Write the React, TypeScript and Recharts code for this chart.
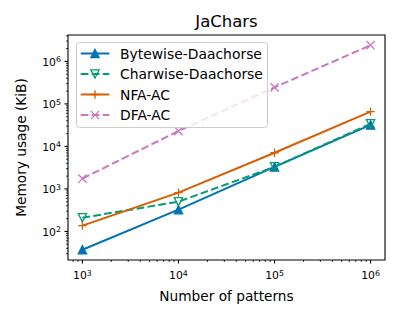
import { LineChart, Line, XAxis, YAxis, Legend, ReferenceArea } from "recharts"

// number of patterns (x) and memory usage in KiB for each structure
const patternCounts = [1e3, 1e4, 1e5, 1e6]
const bytewiseMem = [37, 325, 3300, 32000]
const charwiseMem = [210, 500, 3300, 34000]
const nfaMem = [137, 820, 7100, 66000]
const dfaMem = [1750, 23000, 245000, 2400000]

const seriesNames = ["Bytewise-Daachorse", "Charwise-Daachorse", "NFA-AC", "DFA-AC"]
const xMajorTicks = [1e3, 1e4, 1e5, 1e6]
const yMajorTicks = [1e2, 1e3, 1e4, 1e5, 1e6]

const FONT = "DejaVu Sans"

type MarkerKind = "up" | "down" | "plus" | "cross"

interface SeriesDef {
  key: string
  name: string
  color: string
  marker: MarkerKind
  dashed: boolean
}

const series: SeriesDef[] = [
  { key: "bytewise", name: seriesNames[0], color: "#0173b2", marker: "up", dashed: false },
  { key: "charwise", name: seriesNames[1], color: "#029e73", marker: "down", dashed: true },
  { key: "nfa", name: seriesNames[2], color: "#d55e00", marker: "plus", dashed: false },
  { key: "dfa", name: seriesNames[3], color: "#cc78bc", marker: "cross", dashed: true }
]

const data = patternCounts.map((x, i) => ({
  x,
  bytewise: bytewiseMem[i],
  charwise: charwiseMem[i],
  nfa: nfaMem[i],
  dfa: dfaMem[i]
}))

// log-space autoscale with 5% margins, like matplotlib
const logPad = (vals: number[]): [number, number] => {
  const lo = Math.log10(Math.min(...vals))
  const hi = Math.log10(Math.max(...vals))
  const m = (hi - lo) * 0.05
  return [Math.pow(10, lo - m), Math.pow(10, hi + m)]
}

const xDomain = logPad(patternCounts)
const yDomain = logPad([...bytewiseMem, ...charwiseMem, ...nfaMem, ...dfaMem])

// major + minor (2..9 x 10^k) ticks inside a domain
const logTicks = (domain: [number, number]) => {
  const out: number[] = []
  for (let e = Math.floor(Math.log10(domain[0])); e <= Math.ceil(Math.log10(domain[1])); e++) {
    for (let m = 1; m <= 9; m++) {
      const v = m * Math.pow(10, e)
      if (v >= domain[0] && v <= domain[1]) out.push(v)
    }
  }
  return out
}

const isMajor = (v: number, majors: number[]) => majors.some((m) => Math.abs(m - v) / m < 1e-9)

const Marker = ({ kind, cx, cy, color }: { kind: MarkerKind; cx: number; cy: number; color: string }) => {
  const r = 4.15
  if (kind === "up") {
    return (
      <polygon
        points={`${cx},${cy - r} ${cx - r},${cy + r} ${cx + r},${cy + r}`}
        fill={color}
        stroke={color}
        strokeWidth={1.3}
        strokeLinejoin="miter"
      />
    )
  }
  if (kind === "down") {
    return (
      <polygon
        points={`${cx},${cy + r} ${cx - r},${cy - r} ${cx + r},${cy - r}`}
        fill="none"
        stroke={color}
        strokeWidth={1.3}
      />
    )
  }
  if (kind === "plus") {
    return (
      <path d={`M${cx - r},${cy}H${cx + r}M${cx},${cy - r}V${cy + r}`} stroke={color} strokeWidth={1.3} fill="none" />
    )
  }
  return (
    <path
      d={`M${cx - r},${cy - r}L${cx + r},${cy + r}M${cx - r},${cy + r}L${cx + r},${cy - r}`}
      stroke={color}
      strokeWidth={1.3}
      fill="none"
    />
  )
}

const PowerLabel = ({ x, y, value, anchor }: { x: number; y: number; value: number; anchor: "middle" | "end" }) => (
  <text x={x} y={y} textAnchor={anchor} fontFamily={FONT} fontSize={10.8} fill="#000">
    10
    <tspan dy={-3.4} fontSize={7.9}>
      {Math.round(Math.log10(value))}
    </tspan>
  </text>
)

const XTick = (props: any) => {
  const { x, y, payload } = props
  const major = isMajor(payload.value, xMajorTicks)
  return (
    <g>
      <line x1={x} x2={x} y1={y} y2={y + (major ? 3.5 : 2)} stroke="#000" strokeWidth={major ? 1.1 : 0.8} />
      {major && <PowerLabel x={x} y={y + 19} value={payload.value} anchor="middle" />}
    </g>
  )
}

const YTick = (props: any) => {
  const { x, y, payload } = props
  const major = isMajor(payload.value, yMajorTicks)
  return (
    <g>
      <line x1={x} x2={x - (major ? 3.5 : 2)} y1={y} y2={y} stroke="#000" strokeWidth={major ? 1.1 : 0.8} />
      {major && <PowerLabel x={x - 7} y={y + 4.3} value={payload.value} anchor="end" />}
    </g>
  )
}

const renderLegend = () => (
  <svg width={192} height={86} style={{ display: "block" }}>
    <rect x={0.5} y={0.5} width={191} height={85} rx={3} fill="#fff" fillOpacity={0.8} stroke="#cccccc" />
    {series.map((s, i) => {
      const cy = 11.5 + i * 20.5
      return (
        <g key={s.key}>
          <line
            x1={4.7}
            x2={33.3}
            y1={cy}
            y2={cy}
            stroke={s.color}
            strokeWidth={2}
            strokeDasharray={s.dashed ? "7.7 3.3" : undefined}
          />
          <Marker kind={s.marker} cx={19} cy={cy} color={s.color} />
          <text x={44} y={cy + 5} fontFamily={FONT} fontSize={13.9} fill="#000">
            {s.name}
          </text>
        </g>
      )
    })}
  </svg>
)

export default function App() {
  return (
    <div style={{ position: "absolute", left: 0, top: 0, width: 400, height: 320, background: "#fff" }}>
      <LineChart width={400} height={320} data={data} margin={{ top: 35, right: 15, bottom: 0, left: 0 }}>
        <text x={226.5} y={27} textAnchor="middle" fontFamily={FONT} fontSize={16.5} fill="#000">
          JaChars
        </text>
        <XAxis
          dataKey="x"
          type="number"
          scale="log"
          domain={xDomain}
          allowDataOverflow
          ticks={logTicks(xDomain)}
          interval={0}
          height={60}
          axisLine={false}
          tickLine={false}
          tickSize={0}
          tickMargin={0}
          tick={<XTick />}
          label={{
            content: () => (
              <text x={226.5} y={301} textAnchor="middle" fontFamily={FONT} fontSize={13.7} fill="#000">
                Number of patterns
              </text>
            )
          }}
        />
        <YAxis
          type="number"
          scale="log"
          domain={yDomain}
          allowDataOverflow
          ticks={logTicks(yDomain)}
          interval={0}
          width={68}
          axisLine={false}
          tickLine={false}
          tickSize={0}
          tickMargin={0}
          tick={<YTick />}
          label={{
            content: () => (
              <text
                x={26}
                y={147.5}
                transform="rotate(-90, 26, 147.5)"
                textAnchor="middle"
                fontFamily={FONT}
                fontSize={13.7}
                fill="#000"
              >
                Memory usage (KiB)
              </text>
            )
          }}
        />
        <ReferenceArea
          x1={xDomain[0]}
          x2={xDomain[1]}
          y1={yDomain[0]}
          y2={yDomain[1]}
          fill="none"
          stroke="#000"
          strokeWidth={1.1}
          ifOverflow="visible"
        />
        {series.map((s) => (
          <Line
            key={s.key}
            dataKey={s.key}
            name={s.name}
            type="linear"
            stroke={s.color}
            strokeWidth={2}
            strokeDasharray={s.dashed ? "7.7 3.3" : undefined}
            isAnimationActive={false}
            dot={(p: any) => <Marker key={`${s.key}-${p.index}`} kind={s.marker} cx={p.cx} cy={p.cy} color={s.color} />}
            activeDot={false}
          />
        ))}
        <Legend
          layout="vertical"
          align="center"
          verticalAlign="middle"
          content={renderLegend}
          wrapperStyle={{ left: 76, top: 42, width: 192, height: 86 }}
        />
      </LineChart>
    </div>
  )
}
